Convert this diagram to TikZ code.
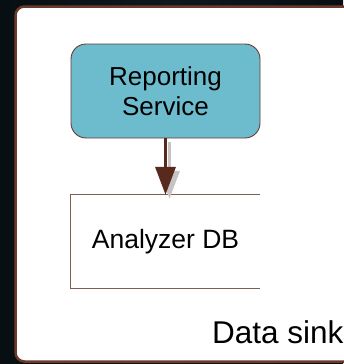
\documentclass[tikz,border=0pt]{standalone}
\usepackage{fontspec}
\setmainfont{Liberation Sans}
\usetikzlibrary{arrows.meta}
\definecolor{bgdark}{RGB}{8,15,19}
\definecolor{bgmid}{RGB}{14,24,30}
\definecolor{frame}{RGB}{107,58,44}
\definecolor{svcfill}{RGB}{109,188,205}
\definecolor{svcline}{RGB}{100,60,50}
\definecolor{dbline}{RGB}{125,95,85}
\definecolor{flow}{RGB}{88,42,30}
\definecolor{flowshadow}{RGB}{200,196,196}
\tikzset{
  service/.style={draw=svcline, line width=0.9pt, fill=svcfill, rounded corners=15pt,
    minimum width=189pt, minimum height=94pt, align=center, inner sep=0pt,
    font=\fontsize{26}{30}\selectfont},
  store/.style={minimum width=189pt, minimum height=93pt, inner sep=0pt,
    font=\fontsize{26.5}{30}\selectfont},
  storeedge/.style={draw=dbline, line width=1pt},
  flowarrow/.style={draw=flow, line width=3.5pt,
    -{Triangle[length=28pt,width=20pt]}},
  flowshade/.style={draw=flowshadow, line width=3.5pt,
    -{Triangle[length=28pt,width=20pt]}},
  caption/.style={font=\fontsize{31.5}{36}\selectfont, inner sep=0pt}
}
\begin{document}
\begin{tikzpicture}[x=1pt,y=-1pt]
  \useasboundingbox (0,0) rectangle (343,364);
  % dark backdrop
  \shade[left color=bgdark, right color=bgdark, middle color=bgmid] (0,0) rectangle (343,364);
  % the white container, running off the right edge
  \draw[frame, line width=2.5pt, fill=white, rounded corners=9pt]
    (15.5,6.5) rectangle (370,361.5);
  % nodes
  \node[service] (rep) at (165.5,91) {Reporting\\Service};
  \node[store] (adb) at (165.5,241.5) {Analyzer DB};
  % the store is open on its right side
  \draw[storeedge] (adb.north east) -- (adb.north west) -- (adb.south west) -- (adb.south east);
  % flow with its soft shadow
  \draw[flowshade] ([shift={(4,4)}]rep.south) -- ([shift={(4,4)}]adb.north);
  \draw[flowarrow] (rep.south) -- (adb.north);
  % container caption
  \node[caption, anchor=base west] (sink) at (212,343) {Data sink};
\end{tikzpicture}
\end{document}
